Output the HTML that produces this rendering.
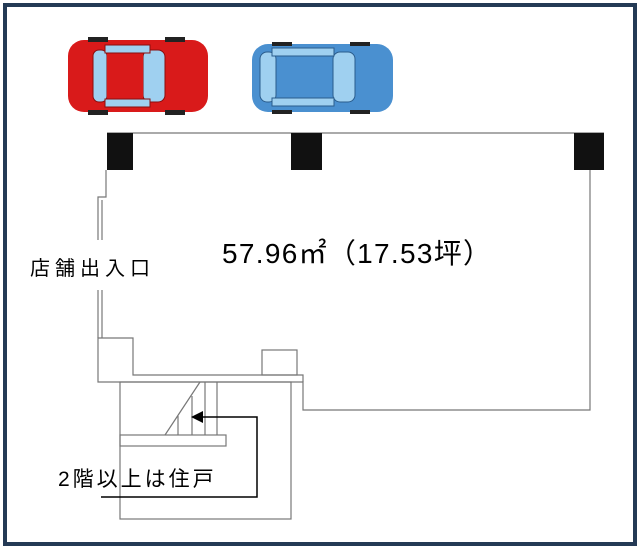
<!DOCTYPE html>
<html><head><meta charset="utf-8"><style>
html,body{margin:0;padding:0;background:#fff;width:640px;height:549px;overflow:hidden}
</style></head><body>
<svg width="640" height="549" xmlns="http://www.w3.org/2000/svg" style="position:absolute;left:0;top:0">
<rect x="5" y="5" width="630" height="539" fill="#fff" stroke="#243a55" stroke-width="4"/>
<!-- red car -->
<g>
<rect x="68" y="40" width="140" height="72" rx="16" fill="#d91a1a"/>
<rect x="88" y="37" width="20" height="5" fill="#222"/><rect x="165" y="37" width="20" height="5" fill="#222"/>
<rect x="88" y="110" width="20" height="5" fill="#222"/><rect x="165" y="110" width="20" height="5" fill="#222"/>
<rect x="93" y="50" width="14" height="52" rx="6" fill="#9fd0f0" stroke="#8a0d0d"/>
<rect x="143" y="50" width="22" height="52" rx="7" fill="#9fd0f0" stroke="#8a0d0d"/>
<rect x="105" y="45" width="45" height="8" fill="#9fd0f0" stroke="#8a0d0d"/>
<rect x="105" y="99" width="45" height="8" fill="#9fd0f0" stroke="#8a0d0d"/>
<rect x="107" y="54" width="36" height="44" fill="#d91a1a"/>
</g>
<!-- blue car -->
<g>
<rect x="252" y="44" width="141" height="68" rx="16" fill="#4a90d0"/>
<rect x="272" y="42" width="20" height="4" fill="#222"/><rect x="350" y="42" width="20" height="4" fill="#222"/>
<rect x="272" y="110" width="20" height="4" fill="#222"/><rect x="350" y="110" width="20" height="4" fill="#222"/>
<rect x="260" y="52" width="16" height="50" rx="7" fill="#9fd0f0" stroke="#2a5c8c"/>
<rect x="333" y="52" width="22" height="50" rx="7" fill="#9fd0f0" stroke="#2a5c8c"/>
<rect x="272" y="48" width="62" height="8" fill="#9fd0f0" stroke="#2a5c8c"/>
<rect x="272" y="98" width="62" height="8" fill="#9fd0f0" stroke="#2a5c8c"/>
<rect x="277" y="57" width="55" height="40" fill="#4a90d0"/>
</g>
<g fill="none" stroke="#777" stroke-width="1.2">
<line x1="107" y1="133" x2="604" y2="133"/>
<polyline points="590,170 590,410 303,410 303,382 98,382 98,338 133,338 133,375 297,375"/>
<polyline points="106,170 106,197 98,197 98,240"/>
<line x1="102" y1="200" x2="102" y2="240"/>
<line x1="98" y1="290" x2="98" y2="338"/>
<line x1="102" y1="290" x2="102" y2="338"/>
<rect x="262" y="350" width="35" height="25"/>
<polyline points="297,375 303,375 303,382"/>
<rect x="120" y="382" width="171" height="137"/>
<rect x="120" y="435" width="106" height="11"/>
<line x1="165" y1="435" x2="200" y2="382"/>
<line x1="178" y1="416" x2="178" y2="435"/>
<line x1="192" y1="396" x2="192" y2="435"/>
<line x1="205" y1="382" x2="205" y2="435"/>
<line x1="217" y1="382" x2="217" y2="435"/>
</g>
<rect x="107" y="133" width="26" height="37" fill="#111"/>
<rect x="291" y="133" width="31" height="37" fill="#111"/>
<rect x="574" y="133" width="30" height="37" fill="#111"/>
<polyline points="101,497 257,497 257,417 200,417" fill="none" stroke="#000" stroke-width="1.5"/>
<polygon points="191,417 203,411 203,423" fill="#000"/>
<text x="222" y="263" font-family="Liberation Sans, Noto Sans CJK JP, sans-serif" font-size="28" letter-spacing="1.3" fill="#000">57.96㎡（17.53坪）</text>
<text x="30" y="275" font-family="Liberation Sans, Noto Sans CJK JP, sans-serif" font-size="20" letter-spacing="5" fill="#000">店舗出入口</text>
<text x="58" y="486" font-family="Liberation Sans, Noto Sans CJK JP, sans-serif" font-size="21" letter-spacing="3" fill="#000">2階以上は住戸</text>
</svg>
</body></html>
